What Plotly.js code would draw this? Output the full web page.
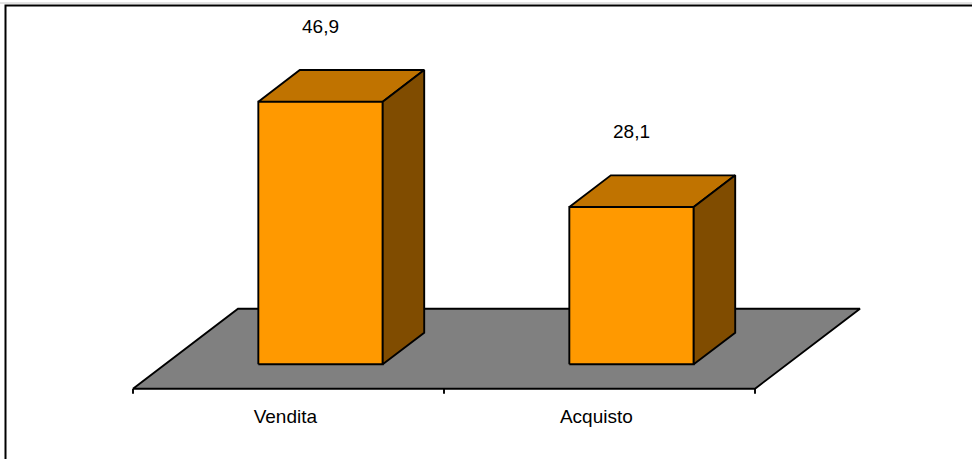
<!DOCTYPE html>
<html><head><meta charset="utf-8">
<script src="https://cdn.plot.ly/plotly-3.0.1.min.js"></script>
<style>html,body{margin:0;padding:0;background:#fff}</style>
</head><body><div id="chart" style="width:972px;height:459px"></div>
<script>
const categories = ['Vendita', 'Acquisto'];
const values = [46.9, 28.1];
const valueLabels = ['46,9', '28,1'];

// oblique projection constants (style)
const PX_PER_CAT = 311, PX_PER_VAL = 5.6;
const DX = 105 / PX_PER_CAT;   // category units per unit depth
const DY = 80 / PX_PER_VAL;    // value units per unit depth
const Z0 = 0.305, Z1 = 0.70, HALF = 0.2;
function P(x, v, z) { return [x + z * DX, v + z * DY]; }
function poly(pts) {
  const xs = [], ys = [];
  pts.forEach(p => { const q = P(p[0], p[1], p[2]); xs.push(q[0]); ys.push(q[1]); });
  xs.push(xs[0]); ys.push(ys[0]);
  return { x: xs, y: ys };
}
const LINE = { color: '#000', width: 1.9 };
function face(pts, color) {
  const g = poly(pts);
  return { type: 'scatter', mode: 'lines', x: g.x, y: g.y, fill: 'toself', fillcolor: color,
           line: LINE, hoverinfo: 'skip', showlegend: false };
}
const n = categories.length;
const traces = [];
// floor
traces.push(face([[-0.5, 0, 0], [n - 0.5, 0, 0], [n - 0.5, 0, 1], [-0.5, 0, 1]], '#808080'));
// ticks
const tx = [], ty = [];
for (let k = 0; k <= n; k++) { tx.push(k - 0.5, k - 0.5, null); ty.push(0, -5 / PX_PER_VAL, null); }
traces.push({ type: 'scatter', mode: 'lines', x: tx, y: ty, line: LINE, hoverinfo: 'skip', showlegend: false });
// bars
values.forEach((v, i) => {
  traces.push(face([[i - HALF, 0, Z0], [i + HALF, 0, Z0], [i + HALF, v, Z0], [i - HALF, v, Z0]], '#FF9900'));
  traces.push(face([[i - HALF, v, Z0], [i + HALF, v, Z0], [i + HALF, v, Z1], [i - HALF, v, Z1]], '#C07300'));
  traces.push(face([[i + HALF, 0, Z0], [i + HALF, 0, Z1], [i + HALF, v, Z1], [i + HALF, v, Z0]], '#804C00'));
});
// value labels
traces.push({ type: 'scatter', mode: 'text',
  x: values.map((v, i) => i + Z0 * DX),
  y: values.map(v => v + Z1 * DY + 42 / PX_PER_VAL),
  text: valueLabels, textposition: 'middle center',
  textfont: { family: 'Liberation Sans, Arial, sans-serif', size: 19, color: '#000' },
  hoverinfo: 'skip', showlegend: false, cliponaxis: false });
// category labels
traces.push({ type: 'scatter', mode: 'text',
  x: categories.map((c, i) => i - 0.01),
  y: categories.map(() => -30 / PX_PER_VAL),
  text: categories, textposition: 'middle center',
  textfont: { family: 'Liberation Sans, Arial, sans-serif', size: 19, color: '#000' },
  hoverinfo: 'skip', showlegend: false, cliponaxis: false });

const W = 972, H = 459, X0PX = 288.5, Y0PX = 388.7;
const layout = {
  width: W, height: H, margin: { l: 0, r: 0, t: 0, b: 0 },
  paper_bgcolor: '#fff', plot_bgcolor: 'rgba(0,0,0,0)', showlegend: false,
  xaxis: { range: [-X0PX / PX_PER_CAT, (W - X0PX) / PX_PER_CAT], visible: false, fixedrange: true },
  yaxis: { range: [(Y0PX - H) / PX_PER_VAL, Y0PX / PX_PER_VAL], visible: false, fixedrange: true },
  shapes: [
    { type: 'line', xref: 'paper', yref: 'paper', x0: 0, x1: 1, y0: 1 - 3 / H, y1: 1 - 3 / H, line: { color: '#c8c8c8', width: 1 } },
    { type: 'rect', xref: 'paper', yref: 'paper', x0: 5.5 / W, x1: 1.05, y0: -0.05, y1: 1 - 5.5 / H, line: { color: '#000', width: 2 } }
  ]
};
Plotly.newPlot('chart', traces, layout, { displayModeBar: false, staticPlot: true });
</script></body></html>
